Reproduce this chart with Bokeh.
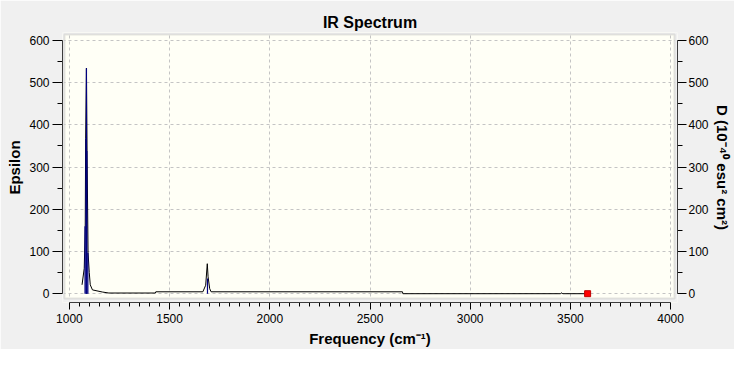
from bokeh.plotting import figure
from bokeh.models import (Range1d, LinearAxis, SingleIntervalTicker, BoxAnnotation)
from bokeh.embed import file_html
from bokeh.resources import INLINE

# ---- data ----
curve_freq = [1063, 1074, 1079, 1081, 1085, 1088, 1093, 1099, 1104, 1115, 1164, 1197,
              1429, 1431, 1666, 1680, 1688, 1692, 1700, 1707, 2662, 2664, 3450, 3456,
              3462, 3580]
curve_eps = [21, 60, 160, 368, 534, 338, 97, 50, 21, 9, 4, 1.6,
             1.6, 4.5, 4.5, 20, 71, 40, 12, 4.5, 4.5, 0, 0, 2,
             0, 0]
stick_freq = [1078, 1083, 1085, 1087, 1092, 1689]
stick_d = [160, 368, 534, 338, 97, 36]
marker_freq = [3586]
marker_val = [0]

FONT = "Liberation Sans"
BG = "#f0f0f0"
CREAM = "#fffff6"

p = figure(width=734, height=349, output_backend="svg", toolbar_location=None,
           x_range=Range1d(965.5, 4034.5), y_range=Range1d(-20.85, 618.5),
           min_border_left=62, min_border_right=57, min_border_top=32, min_border_bottom=47,
           title="IR Spectrum", background_fill_color=CREAM, border_fill_color=BG)
p.outline_line_color = None
p.title.align = "center"
p.title.text_font = FONT
p.title.text_font_size = "16px"
p.title.text_font_style = "bold"
p.title.text_color = "black"
p.title.standoff = 4

# axes
p.xaxis.ticker = SingleIntervalTicker(interval=500, num_minor_ticks=10)
p.yaxis.ticker = SingleIntervalTicker(interval=100, num_minor_ticks=2)
p.xaxis.bounds = (1000, 4000)
p.yaxis.bounds = (0, 600)
p.xaxis.axis_label = "Frequency (cm\u207b\u00b9)"
p.yaxis.axis_label = "Epsilon"

right = LinearAxis(ticker=SingleIntervalTicker(interval=100, num_minor_ticks=2),
                   bounds=(0, 600), axis_label="D (10\u207b\u2074\u2070 esu\u00b2 cm\u00b2)")
p.add_layout(right, "right")

for ax in [p.xaxis[0], p.yaxis[0], right]:
    ax.axis_line_color = "black"
    ax.major_tick_line_color = "black"
    ax.minor_tick_line_color = "black"
    ax.major_tick_in = 0
    ax.minor_tick_in = 0
    ax.major_label_text_font = FONT
    ax.major_label_text_font_size = "12px"
    ax.major_label_text_color = "black"
    ax.axis_label_text_font = FONT
    ax.axis_label_text_font_size = "15px"
    ax.axis_label_text_font_style = "bold"
    ax.axis_label_text_color = "black"
    ax.major_label_standoff = 3

p.xaxis.major_tick_out = 7
p.xaxis.minor_tick_out = 4
p.xaxis.major_label_standoff = 4
p.xaxis.axis_label_standoff = 4
p.yaxis.major_tick_out = 10
p.yaxis.minor_tick_out = 5
p.yaxis.axis_label_standoff = 3
right.major_tick_out = 9
right.minor_tick_out = 5
right.major_label_standoff = 2
right.axis_label_standoff = 2

# grid
p.xgrid.grid_line_color = "#c4c4c4"
p.ygrid.grid_line_color = "#c4c4c4"
p.xgrid.grid_line_dash = "3 3"
p.ygrid.grid_line_dash = "3 3"

# gray strips between the cream box and the axes
for kw in [dict(right=975.3), dict(left=4019.7), dict(top=-11.58), dict(bottom=613.9)]:
    p.add_layout(BoxAnnotation(fill_color=BG, fill_alpha=1, line_color=None, **kw))
# box border
p.add_layout(BoxAnnotation(left=975.3, right=4019.7, bottom=-11.58, top=613.9,
                           fill_alpha=0, line_color="#a8a8a8", line_width=2))

# spectrum
p.line(curve_freq, curve_eps, line_color="black", line_width=1)
p.segment(x0=stick_freq, y0=[0] * len(stick_freq), x1=stick_freq, y1=stick_d,
          line_color="#000080", line_width=1.2)
p.scatter(marker_freq, marker_val, marker="square", size=6, fill_color="red",
          line_color="#c00000")

open("out.html", "w").write(file_html(p, INLINE))
